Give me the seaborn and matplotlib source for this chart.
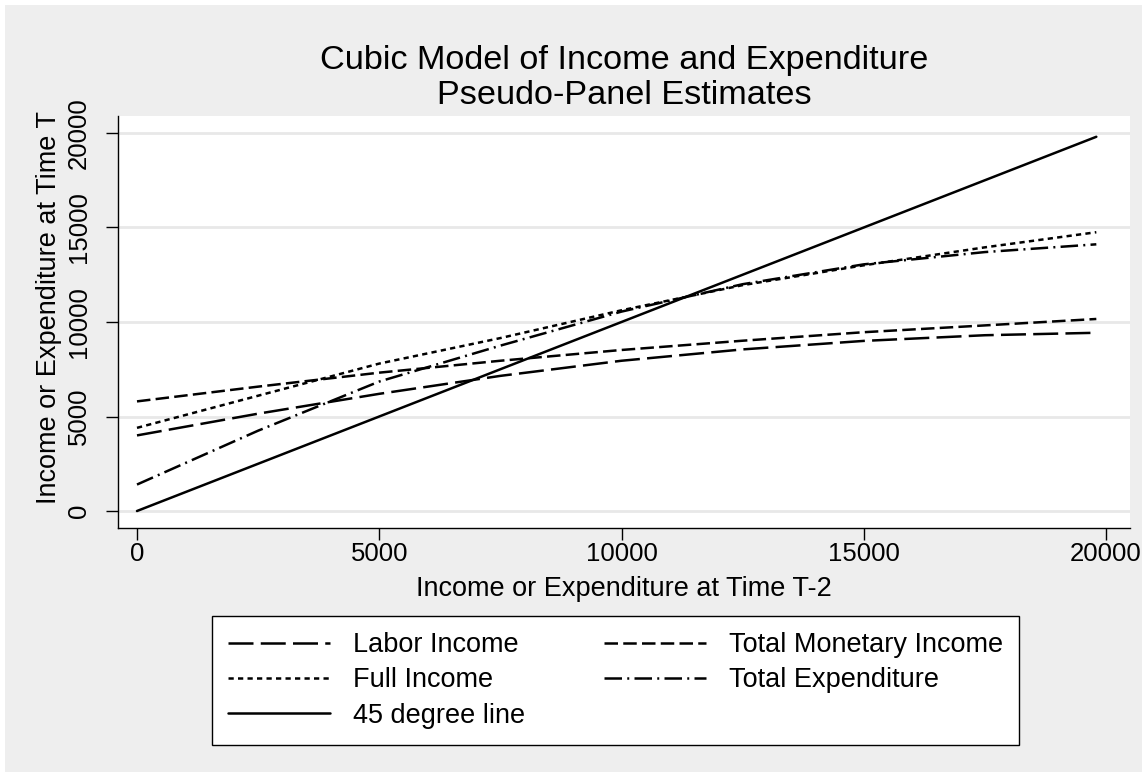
import pandas as pd
import seaborn as sns
import matplotlib.pyplot as plt
from matplotlib.lines import Line2D
from matplotlib.patches import Rectangle

# values
x_vals = [0, 2500, 5000, 7500, 10000, 12500, 15000, 17500, 19800]
labor_income = [4000, 5150, 6200, 7150, 7950, 8550, 9000, 9300, 9430]
monetary_income = [5800, 6580, 7320, 7950, 8520, 9010, 9460, 9820, 10160]
full_income = [4400, 6100, 7800, 9150, 10620, 11950, 13000, 13950, 14750]
total_expenditure = [1400, 4250, 6850, 8750, 10550, 12000, 13050, 13700, 14110]
line45_x = [0, 19800]
line45_y = [0, 19800]

series_names = ["Labor Income", "Total Monetary Income", "Full Income",
                "Total Expenditure", "45 degree line"]
x_ticks = [0, 5000, 10000, 15000, 20000]
y_ticks = [0, 5000, 10000, 15000, 20000]

# build long-form table
frames = []
for name, ys in zip(series_names[:4], [labor_income, monetary_income, full_income, total_expenditure]):
    frames.append(pd.DataFrame({"x": x_vals, "y": ys, "series": name}))
frames.append(pd.DataFrame({"x": line45_x, "y": line45_y, "series": series_names[4]}))
df = pd.concat(frames, ignore_index=True)

# dash patterns in units of line width
dash_styles = {
    "Labor Income": (10, 2.9),
    "Total Monetary Income": (5.4, 2.1),
    "Full Income": (2.1, 1.7),
    "Total Expenditure": (7, 2.1, 0.8, 2.1),
    "45 degree line": "",
}
LW = 1.8

sns.set_style("white")
plt.rcParams['font.family'] = ['Liberation Sans', 'DejaVu Sans']
plt.rcParams['text.color'] = 'black'
plt.rcParams['axes.labelcolor'] = 'black'
plt.rcParams['xtick.color'] = 'black'
plt.rcParams['ytick.color'] = 'black'

BG = '#eeeeee'
W, H = 1142, 772
fig = plt.figure(figsize=(W / 100, H / 100), dpi=100, facecolor='white')
fig.patches.append(Rectangle((5 / W, 0), 1, (H - 5) / H, transform=fig.transFigure,
                             facecolor=BG, edgecolor='none', zorder=-10))

ax = fig.add_axes([118 / W, (H - 528) / H, (1130 - 118) / W, (528 - 116) / H])
ax.set_facecolor('white')

sns.lineplot(data=df, x='x', y='y', style='series', dashes=dash_styles, color='black',
             linewidth=LW, estimator=None, legend=False, ax=ax)

ax.set_xlim(-392, 20495)
ax.set_ylim(-899, 20899)
ax.set_xticks(x_ticks)
ax.set_yticks(y_ticks)
ax.yaxis.grid(True, color='#e8e8e8', linewidth=2)
ax.set_axisbelow(True)

for side in ['top', 'right']:
    ax.spines[side].set_visible(False)
for side in ['left', 'bottom']:
    ax.spines[side].set_color('black')
    ax.spines[side].set_linewidth(1.0)

ax.tick_params(axis='both', direction='out', length=8.5, width=1.0, color='black',
               labelcolor='black', labelsize=18.5, left=True, bottom=True)
ax.tick_params(axis='y', labelrotation=90, pad=11)
ax.tick_params(axis='x', pad=1.5)
for lab in ax.get_yticklabels():
    lab.set_va('center')

ax.set_xlabel("Income or Expenditure at Time T-2", fontsize=19.5)
ax.set_ylabel("Income or Expenditure at Time T", fontsize=19.5)
ax.xaxis.set_label_coords(0.5, (528 - 576) / 412)
ax.yaxis.set_label_coords((62 - 118) / 1012, (528 - 308) / 412)

# title, two lines
fig.text(624 / W, 1 - 60 / H, "Cubic Model of Income and Expenditure",
         ha='center', va='center', fontsize=24.7)
fig.text(624 / W, 1 - 95 / H, "Pseudo-Panel Estimates",
         ha='center', va='center', fontsize=24.7)

# legend (column-wise order gives Stata's row layout)
handles = {}
for name in series_names:
    d = dash_styles[name]
    if d == "":
        handles[name] = Line2D([], [], color='black', linewidth=LW, linestyle='-')
    else:
        handles[name] = Line2D([], [], color='black', linewidth=LW, dashes=d)
order = ["Labor Income", "Full Income", "45 degree line", "Total Monetary Income", "Total Expenditure"]
leg = fig.legend([handles[n] for n in order], order, ncol=2, loc='upper left',
                 bbox_to_anchor=(212 / W, 1 - 616 / H, (1019 - 212) / W, 0.0),
                 mode='expand', fontsize=19.5, frameon=True, fancybox=False,
                 edgecolor='black', facecolor='white', framealpha=1,
                 handlelength=3.75, handletextpad=0.85, labelspacing=0.34,
                 borderpad=0.6, borderaxespad=0, columnspacing=2.0)
leg.get_frame().set_linewidth(1.0)

plt.savefig('out.png', dpi=100, facecolor=fig.get_facecolor())
